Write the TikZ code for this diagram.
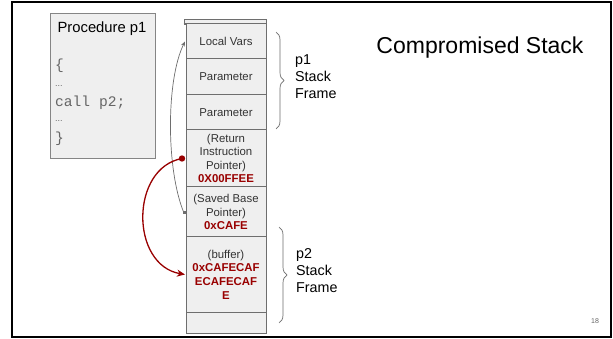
\documentclass[tikz,border=0pt]{standalone}
\usepackage{fontspec}
\setmainfont{Liberation Sans}
\setmonofont{Liberation Mono}
\usetikzlibrary{arrows.meta,decorations.pathreplacing}
\definecolor{cellfill}{HTML}{EFEFEF}
\definecolor{cellline}{HTML}{6E6E6E}
\definecolor{darkred}{HTML}{990000}
\definecolor{txt}{HTML}{333333}
\definecolor{codegray}{HTML}{666666}
\tikzset{
  cell/.style={draw=cellline, line width=1pt, fill=cellfill, minimum width=80pt,
    inner sep=0pt, outer sep=0pt, align=center, text=txt,
    font=\fontsize{11.4}{13.6}\selectfont},
  bracestyle/.style={draw=cellline, line width=0.7pt,
    decorate, decoration={brace, amplitude=8pt}},
  framelabel/.style={align=left, anchor=west, text=black,
    font=\fontsize{14.3}{17}\selectfont, inner sep=0pt},
  codeline/.style={anchor=west, text=codegray, inner sep=0pt,
    font=\ttfamily\fontsize{14.6}{16}\selectfont},
}
\begin{document}
\begin{tikzpicture}[x=1pt, y=-1pt]
\useasboundingbox (0,0) rectangle (613,339);
\fill[white] (0,0) rectangle (613,339);
\draw[line width=2pt] (12,2) rectangle (611,337);

% procedure box
\node[draw=codegray!80, fill=cellfill, line width=0.8pt, minimum width=105pt,
  minimum height=145pt, inner sep=0pt] (proc) at (102.5,85.5) {};
\node[inner sep=0pt, font=\fontsize{14.8}{16}\selectfont] (ptitle) at (102,29) {Procedure p1};
\node[codeline] (c1) at (55,66) {\{};
\node[codeline, font=\fontsize{9}{10}\selectfont] (c2) at (55,86) {...};
\node[codeline] (c3) at (55,103) {call p2;};
\node[codeline, font=\fontsize{9}{10}\selectfont] (c4) at (55,121) {...};
\node[codeline] (c5) at (55,139) {\}};

% stack top
\node[draw=cellline, fill=cellfill, line width=0.6pt, minimum width=82pt, minimum height=5pt,
  inner sep=0pt] (top) at (225,21.5) {};
\draw[cellline, line width=1.8pt] (top.south west) -- (top.south east);

% stack cells
\node[cell, minimum height=35pt] (local) at (226,41.5) {Local Vars};
\node[cell, minimum height=36pt] (par1) at (226,77) {Parameter};
\node[cell, minimum height=35pt] (par2) at (226,112.5) {Parameter};
\node[cell, minimum height=57pt] (ret) at (226,158.5) {(Return\\Instruction\\Pointer)\\{\color{darkred}\bfseries 0X00FFEE}};
\node[cell, minimum height=50pt] (sbp) at (226,212) {(Saved Base\\Pointer)\\{\color{darkred}\bfseries 0xCAFE}};
\node[cell, minimum height=75pt] (buf) at (226,274.5) {(buffer)\\{\color{darkred}\bfseries 0xCAFECAF}\\{\color{darkred}\bfseries ECAFECAF}\\{\color{darkred}\bfseries E}};
\node[cell, minimum height=21pt] (last) at (226,322.5) {};

% braces
\coordinate (b1t) at (276,32);
\coordinate (b1b) at (276,129);
\coordinate (b2t) at (279,227);
\coordinate (b2b) at (279,323);
\draw[bracestyle] (b1t) -- (b1b);
\draw[bracestyle] (b2t) -- (b2b);
\node[framelabel] (l1) at (295,77) {p1\\Stack\\Frame};
\node[framelabel] (l2) at (296,271) {p2\\Stack\\Frame};

% title
\node[inner sep=0pt, font=\fontsize{23}{26}\selectfont] (title) at (480,48) {Compromised Stack};

% gray arrow
\coordinate (gs) at ([xshift=-2pt,yshift=-1pt]sbp.west);
\fill[cellline] ([xshift=-1.5pt,yshift=-1.5pt]gs) rectangle ([xshift=1.5pt,yshift=1.5pt]gs);
\draw[cellline, line width=0.7pt, -{Stealth[length=5pt,width=4pt]}]
  (gs) .. controls (166,170) and (166,80) .. ([xshift=-1pt]local.west);

% red arrow
\coordinate (rs) at ([xshift=-4pt]ret.west);
\fill[darkred] (rs) circle (3.2pt);
\draw[darkred, line width=1.3pt, -{Stealth[length=8pt,width=7pt]}]
  (rs) .. controls (130,168) and (130,265) .. ([xshift=-1pt]buf.west);

% page number
\node[text=codegray, font=\fontsize{7}{8}\selectfont, inner sep=0pt] (pg) at (595,321) {18};
\end{tikzpicture}
\end{document}
